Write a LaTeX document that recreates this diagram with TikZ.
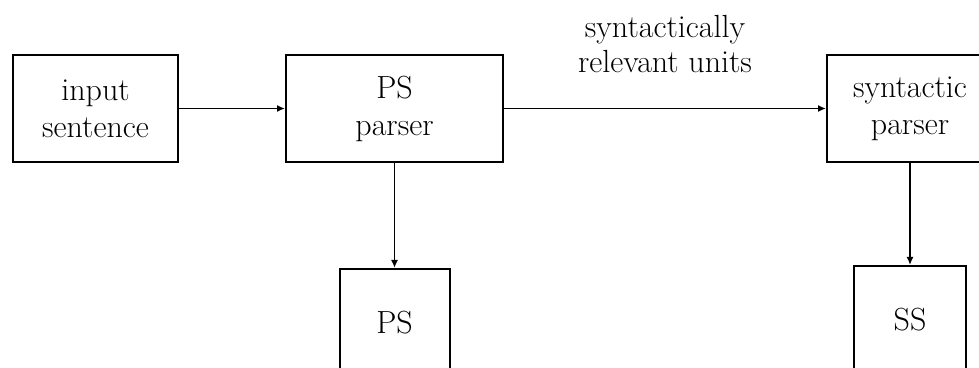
\documentclass[tikz,border=0pt]{standalone}
\usepackage{amsmath,amssymb}
\usepackage{tikz}
\usetikzlibrary{arrows.meta,positioning,calc}

\begin{document}
\begin{tikzpicture}[
    x=1pt, y=1pt,
    stage/.style={rectangle, draw=black, line width=1pt, minimum width=82.5pt, minimum height=53.5pt, align=center, font=\fontsize{16}{18.5}\selectfont},
    store/.style={rectangle, draw=black, line width=1pt, minimum width=55pt, minimum height=53.5pt, font=\fontsize{16}{18.5}\selectfont},
    arr/.style={-{Latex[length=4pt,width=3.5pt]}, line width=0.9pt}
]
    \useasboundingbox (0,0) rectangle (489.5,-184);

    \node[stage] (input) at (47.75,-54.25) {input\\sentence};
    \node[stage, minimum width=108.5pt, right=53pt of input] (psparser) {PS\\parser};
    \node[stage, minimum width=83pt, right=161pt of psparser] (synparser) {syntactic\\parser};
    \node[store, below=52.5pt of psparser] (ps) {PS};
    \node[store, minimum width=56pt, below=51pt of synparser] (ss) {SS};

    \draw[arr] (input) -- (psparser);
    \draw[arr] (psparser) -- node[above=14pt, align=center, font=\fontsize{16}{17.5}\selectfont] {syntactically\\relevant units} (synparser);
    \draw[arr] (psparser) -- (ps);
    \draw[arr] (synparser) -- (ss);
\end{tikzpicture}
\end{document}
